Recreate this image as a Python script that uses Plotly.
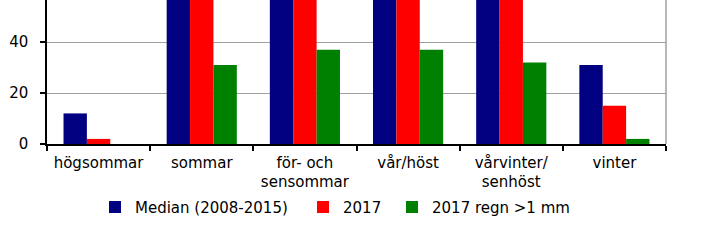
import plotly.graph_objects as go

categories = ["högsommar", "sommar", "för- och<br>sensommar", "vår/höst", "vårvinter/<br>senhöst", "vinter"]
median_2008_2015 = [12, 85, 79, 72, 64, 31]
year_2017 = [2, 82, 75, 70, 62, 15]
year_2017_rain = [0, 31, 37, 37, 32, 2]
series_names = ["Median (2008-2015)", "2017", "2017 regn >1 mm"]
colors = ["#000080", "#FF0000", "#008000"]
y_ticks = [0, 20, 40, 60, 80]

FONT = "DejaVu Sans"
W, H = 701, 244
ML, MR, MT, MB = 47, 35, 0, 100
PW = W - ML - MR

fig = go.Figure()
legend_names = ["legend", "legend2", "legend3"]
for vals, name, col, lg in zip([median_2008_2015, year_2017, year_2017_rain], series_names, colors, legend_names):
    fig.add_trace(go.Bar(x=categories, y=vals, name=name, marker_color=col,
                         marker_line_width=0, legend=lg))

# legend text start positions (pixels) from reference
text_px = [135, 343, 432]
legend_cfg = {}
for lg, tx in zip(legend_names, text_px):
    legend_cfg[lg] = dict(
        x=(tx - 40 - ML) / PW, xanchor="left", y=-0.44, yanchor="middle",
        orientation="h", bgcolor="rgba(0,0,0,0)", borderwidth=0,
        font=dict(family=FONT, size=15, color="black"), itemwidth=30,
    )

fig.update_layout(
    width=W, height=H,
    margin=dict(l=ML, r=MR, t=MT, b=MB, pad=0),
    paper_bgcolor="white", plot_bgcolor="white",
    barmode="group", bargap=0.32, bargroupgap=0,
    font=dict(family=FONT, size=15, color="black"),
    showlegend=True,
    xaxis=dict(showline=True, linecolor="black", linewidth=1.5,
               ticks="outside", ticklen=5, tickcolor="black", tickwidth=1.5,
               tickson="boundaries", showgrid=False, ticklabelstandoff=4,
               tickfont=dict(family=FONT, size=15, color="black")),
    yaxis=dict(range=[0, 56.5], tickvals=y_ticks, showline=True, linecolor="black",
               linewidth=1.5, ticks="outside", ticklen=5, tickcolor="black",
               tickwidth=1.5, showgrid=True, gridcolor="#A0A0A0", gridwidth=1,
               zeroline=False, ticklabelstandoff=9,
               tickfont=dict(family=FONT, size=15, color="black")),
    shapes=[dict(type="line", xref="paper", yref="paper", x0=1, x1=1, y0=0, y1=1,
                 line=dict(color="#A0A0A0", width=1.5))],
    **legend_cfg,
)

fig.write_html("out.html")
